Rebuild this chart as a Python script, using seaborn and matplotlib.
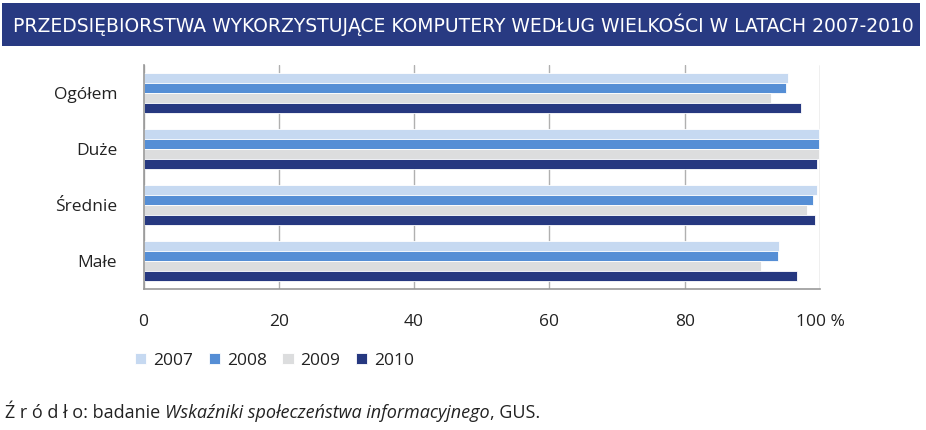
import numpy as np
import pandas as pd
import seaborn as sns
import matplotlib as mpl
from matplotlib import pyplot as plt
from matplotlib.patches import Rectangle

# data (percent of enterprises)
categories = ['Ogółem', 'Duże', 'Średnie', 'Małe']
years = ['2007', '2008', '2009', '2010']
v2007 = [95.3, 99.9, 99.6, 94.0]
v2008 = [95.0, 99.8, 99.0, 93.8]
v2009 = [92.7, 99.8, 98.1, 91.3]
v2010 = [97.2, 99.6, 99.2, 96.6]
xticks = [0, 20, 40, 60, 80, 100]
xticklabels = ['0', '20', '40', '60', '80', '100 %']

colors = ['#C6D9F1', '#558ED5', '#DCDDDE', '#263880']
navy = '#283A82'

df = pd.DataFrame({
    'cat': categories * 4,
    'year': [y for y in years for _ in categories],
    'val': v2007 + v2008 + v2009 + v2010,
})

sns.set_style('white')
plt.rcParams['font.family'] = ['Open Sans', 'DejaVu Sans']

fig = plt.figure(figsize=(9.26, 4.30), dpi=100)
ax = fig.add_axes([0.155, 0.328, 0.7305, 0.521])

sns.barplot(data=df, y='cat', x='val', hue='year', order=categories,
            hue_order=years, palette=colors, orient='h', width=0.72,
            edgecolor='white', linewidth=0.6, saturation=1, ax=ax,
            legend=True)

ax.set_xlim(0, 100)
ax.set_ylim(3.5, -0.5)
ax.set_xticks(xticks)
ax.set_xticklabels(xticklabels, fontsize=12.5, color='#222222')
ax.set_yticks(range(len(categories)))
ax.set_yticklabels(categories, fontsize=12.5, color='#222222')
ax.set_yticks(np.arange(-0.5, 4, 1), minor=True)
ax.set_xlabel('')
ax.set_ylabel('')
ax.set_axisbelow(True)
ax.xaxis.grid(True, color='#B0B0B0', linewidth=1)
ax.yaxis.grid(False)

for side in ['top', 'right']:
    ax.spines[side].set_visible(False)
for side in ['left', 'bottom']:
    ax.spines[side].set_color('#999999')
    ax.spines[side].set_linewidth(1.2)

ax.tick_params(axis='y', which='major', length=0, pad=19)
ax.tick_params(axis='y', which='minor', length=5, color='#999999', width=1.2, direction='out')
ax.tick_params(axis='x', which='major', length=5, color='#999999', width=1.2, direction='out', pad=13)

leg = ax.legend(loc='upper left', bbox_to_anchor=(-0.036, -0.215), ncol=4,
                frameon=False, fontsize=12.5, handlelength=0.65, handleheight=0.65,
                handletextpad=0.4, columnspacing=0.9)
for t in leg.get_texts():
    t.set_color('#222222')

# title banner
fig.patches.append(Rectangle((2 / 926, 1 - 46 / 430), 918 / 926, 43 / 430,
                             transform=fig.transFigure, facecolor=navy,
                             edgecolor='none', zorder=0))
fig.text(0.5, 1 - 25 / 430,
         'PRZEDSIĘBIORSTWA WYKORZYSTUJĄCE KOMPUTERY WEDŁUG WIELKOŚCI W LATACH 2007-2010',
         ha='center', va='center', color='white', fontsize=13.5,
         fontfamily=['Liberation Sans Narrow', 'DejaVu Sans'])

# source note
fig.text(5 / 926, 1 - 413 / 430, 'Ź r ó d ł o: badanie ', ha='left', va='center',
         fontsize=13, color='#222222')
src1 = fig.texts[-1]
fig.canvas.draw()
bb = src1.get_window_extent()
fig.text(bb.x1 / 926, 1 - 413 / 430, 'Wskaźniki społeczeństwa informacyjnego',
         ha='left', va='center', fontsize=13, style='italic', color='#222222')
bb2 = fig.texts[-1].get_window_extent()
fig.text(bb2.x1 / 926, 1 - 413 / 430, ', GUS.', ha='left', va='center',
         fontsize=13, color='#222222')

fig.savefig('out.png', dpi=100)
